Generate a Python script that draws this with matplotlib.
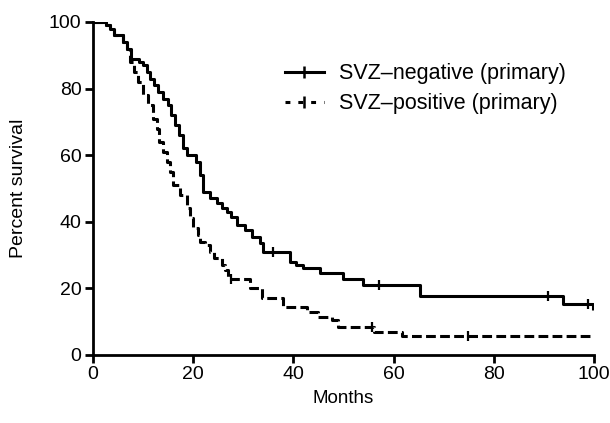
import matplotlib
matplotlib.use('Agg')
import matplotlib.pyplot as plt
from matplotlib.lines import Line2D

plt.rcParams['font.family'] = ['Liberation Sans', 'DejaVu Sans']

# SVZ-negative (primary): step times (months) and percent survival
neg_t = [0, 2.6, 3.5, 4.2, 6, 6.8, 7.6, 9.2, 10, 10.8, 11.4, 12.2, 13, 14, 15,
         15.6, 16.4, 17.2, 18, 18.8, 20.6, 21.4, 22, 23.4, 24.8, 25.8, 26.7, 27.5,
         28.7, 30.3, 31.7, 33.3, 34, 39.3, 40.5, 42, 45.3, 50, 54, 65.3, 93.8, 99.8]
neg_s = [100, 99, 98, 96, 94, 92, 89, 88, 87, 85, 83, 81, 79, 77, 75,
         72, 69, 66, 62, 60, 58, 54, 49, 47, 45.5, 44, 43, 41.5,
         39, 37.5, 35.5, 33.6, 31, 28, 27, 26, 24.6, 22.8, 21, 17.7, 15.3, 13.5]
neg_cens_t = [36, 57, 90.8, 98.8]
neg_cens_s = [31, 21, 17.7, 15.3]

# SVZ-positive (primary)
pos_t = [0, 2.6, 3.5, 4.2, 6, 6.8, 7.4, 8.2, 9, 10, 11, 12, 12.8, 13.3, 14,
         14.8, 15.4, 16, 17.4, 18.8, 19.4, 20, 21, 21.4, 22.4, 23.4, 24.2, 25.8,
         26.3, 27, 31.3, 33.7, 38, 42.7, 45, 47.7, 49, 56, 61.7, 99.2]
pos_s = [100, 99, 98, 96, 94, 92, 88, 85, 82, 78, 75, 71, 68, 64, 61,
         58, 55, 51, 48, 44, 41, 38, 36, 34, 33, 31, 29, 27,
         25.5, 22.8, 20, 17, 14.5, 13, 11.4, 10.5, 8.4, 7, 5.7, 5.7]
pos_cens_t = [27.5, 55.7, 74.9]
pos_cens_s = [22.8, 8.4, 5.7]

fig = plt.figure(figsize=(6.1, 4.23), dpi=100)
ax = fig.add_axes([0.152, 0.161, 0.822, 0.787])

lw = 2.2
ax.plot(neg_t, neg_s, drawstyle='steps-post', color='black', lw=lw,
        solid_capstyle='butt')
ax.plot(neg_cens_t, neg_cens_s, ls='none', marker='|', ms=6.5, mew=1.6,
        color='black')
ax.plot(pos_t, pos_s, drawstyle='steps-post', color='black', lw=lw,
        dashes=(3.2, 1.4))
ax.plot(pos_cens_t, pos_cens_s, ls='none', marker='|', ms=6.5, mew=1.6,
        color='black')

ax.set_xlim(0, 100)
ax.set_ylim(0, 100)
ax.set_xticks([0, 20, 40, 60, 80, 100])
ax.set_yticks([0, 20, 40, 60, 80, 100])
for s in ['top', 'right']:
    ax.spines[s].set_visible(False)
for s in ['left', 'bottom']:
    ax.spines[s].set_linewidth(2)
ax.tick_params(width=2, length=6, labelsize=14, pad=2)
ax.set_xlabel('Months', fontsize=13.5, labelpad=5)
ax.set_ylabel('Percent survival', fontsize=14, labelpad=16)

handles = [Line2D([], [], color='black', lw=lw, marker='|', ms=8, mew=1.8),
           Line2D([], [], color='black', lw=lw, dashes=(1.6, 2.6), marker='|',
                  ms=8, mew=1.8)]
ax.legend(handles, ['SVZ\u2013negative (primary)', 'SVZ\u2013positive (primary)'],
          loc='center left', bbox_to_anchor=(0.383, 0.80), frameon=False,
          fontsize=15.5, handlelength=1.8, numpoints=1, labelspacing=0.42,
          handletextpad=0.7, borderpad=0, borderaxespad=0)

fig.savefig('out.png', dpi=100)
